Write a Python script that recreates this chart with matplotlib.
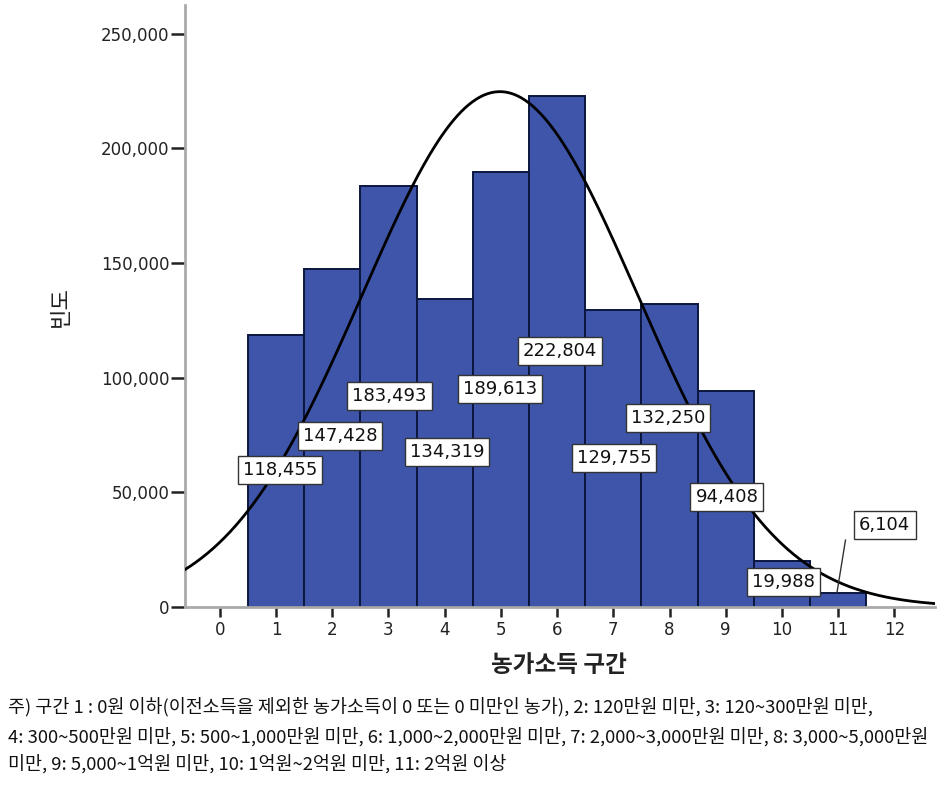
import numpy as np
import matplotlib
matplotlib.use("Agg")
import matplotlib.pyplot as plt

plt.rcParams['font.family'] = ['DejaVu Sans', 'Noto Sans CJK KR']

# ---- data ----
categories = [1, 2, 3, 4, 5, 6, 7, 8, 9, 10, 11]
frequencies = [118455, 147428, 183493, 134319, 189613, 222804,
               129755, 132250, 94408, 19988, 6104]
value_labels = ["118,455", "147,428", "183,493", "134,319", "189,613", "222,804",
                "129,755", "132,250", "94,408", "19,988", "6,104"]
xticks = list(range(0, 13))
yticks = [0, 50000, 100000, 150000, 200000, 250000]
ytick_labels = ["0", "50,000", "100,000", "150,000", "200,000", "250,000"]
x_title = "농가소득 구간"
y_title = "빈도"
footnote_lines = [
    "주) 구간 1 : 0원 이하(이전소득을 제외한 농가소득이 0 또는 0 미만인 농가), 2: 120만원 미만, 3: 120~300만원 미만,",
    "4: 300~500만원 미만, 5: 500~1,000만원 미만, 6: 1,000~2,000만원 미만, 7: 2,000~3,000만원 미만, 8: 3,000~5,000만원",
    "미만, 9: 5,000~1억원 미만, 10: 1억원~2억원 미만, 11: 2억원 이상",
]

# label box placement (data coords)
label_pos = [(1.07, 59800), (2.14, 74600), (3.02, 92100), (4.04, 67600),
             (4.98, 95100), (6.05, 111700), (7.01, 65000), (7.97, 82500),
             (9.02, 48000), (10.02, 10900), (11.83, 35800)]

fig = plt.figure(figsize=(9.52, 7.90), dpi=100)
ax = fig.add_axes([0.1943, 0.2316, 0.982 - 0.1943, 0.9937 - 0.2316])

cats = np.array(categories)
freq = np.array(frequencies)
ax.bar(cats, freq, width=1.0, color='#3F55AA', edgecolor='#0b1640', linewidth=1.4, zorder=2)

# normal curve fit from data
N = freq.sum()
mean = (cats * freq).sum() / N
sd = np.sqrt(((cats - mean) ** 2 * freq).sum() / N)
xs = np.linspace(-0.62, 12.72, 400)
ys = N / (sd * np.sqrt(2 * np.pi)) * np.exp(-0.5 * ((xs - mean) / sd) ** 2)
ax.plot(xs, ys, color='black', linewidth=2.0, zorder=3)

# labels
for (lx, ly), txt in zip(label_pos, value_labels):
    ax.text(lx, ly, txt, ha='center', va='center', fontsize=13, color='#111111',
            family='DejaVu Sans',
            bbox=dict(boxstyle='square,pad=0.28', facecolor='white', edgecolor='#333333', linewidth=1.0),
            zorder=5)
# leader line for the last label
ax.plot([11.13, 10.98], [29200, 6500], color='#333333', linewidth=1.0, zorder=4)

ax.set_xlim(-0.62, 12.72)
ax.set_ylim(0, 262600)
ax.set_xticks(xticks)
ax.set_xticklabels([str(t) for t in xticks], family='DejaVu Sans')
ax.set_yticks(yticks)
ax.set_yticklabels(ytick_labels, family='DejaVu Sans')

for s in ['top', 'right']:
    ax.spines[s].set_visible(False)
for s in ['left', 'bottom']:
    ax.spines[s].set_color('#aaaaaa')
    ax.spines[s].set_linewidth(2.0)

ax.tick_params(axis='both', direction='out', width=1.8, color='#222222',
               labelsize=12, labelcolor='#222222')
ax.tick_params(axis='x', length=7, pad=3)
ax.tick_params(axis='y', length=10, pad=1)

ax.set_xlabel(x_title, fontsize=17, fontweight='bold', color='#222222',
              family=['Noto Sans CJK KR'])
ax.xaxis.set_label_coords(0.4987, -0.0764)
ax.set_ylabel(y_title, fontsize=16, color='#222222', family=['Noto Sans CJK KR'])
ax.yaxis.set_label_coords(-0.151, 0.50)

footnote_y = [707, 737, 764]
for line, py in zip(footnote_lines, footnote_y):
    fig.text(0.008, (790 - py) / 790, line, ha='left', va='center', fontsize=13.3,
             color='#111111', family=['Noto Sans CJK KR', 'DejaVu Sans'])

fig.savefig('out.png', dpi=100)
